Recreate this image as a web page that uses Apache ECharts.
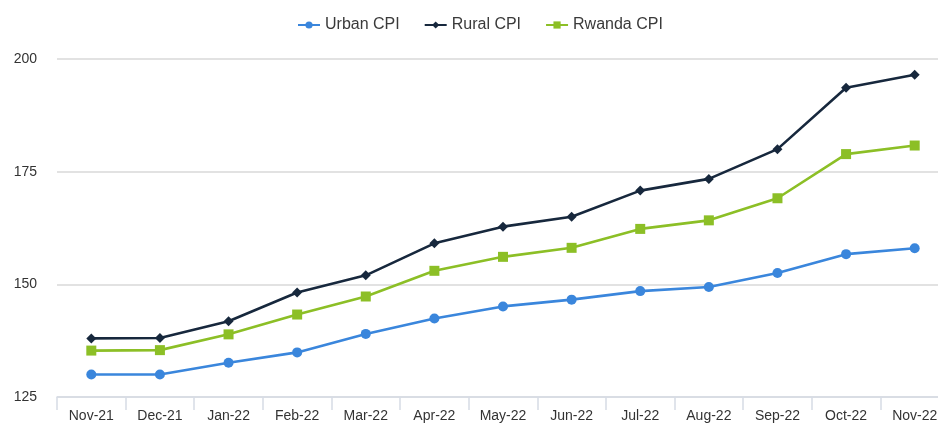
<!DOCTYPE html>
<html>
<head>
<meta charset="utf-8">
<script src="https://cdn.jsdelivr.net/npm/echarts@6/dist/echarts.min.js"></script>
<style>html,body{margin:0;padding:0;background:#fff;overflow:hidden;width:938px;height:425px;}#c{width:950px;height:425px;}</style>
</head>
<body>
<div id="c"></div>
<script>
const categories = ["Nov-21","Dec-21","Jan-22","Feb-22","Mar-22","Apr-22","May-22","Jun-22","Jul-22","Aug-22","Sep-22","Oct-22","Nov-22"];
const urbanCPI = [130.0,130.0,132.6,134.9,139.0,142.4,145.1,146.6,148.5,149.4,152.5,156.7,158.0];
const ruralCPI = [138.0,138.1,141.8,148.2,152.0,159.1,162.8,165.0,170.8,173.4,180.0,193.6,196.5];
const rwandaCPI = [135.3,135.4,138.9,143.3,147.3,153.0,156.1,158.1,162.3,164.2,169.1,178.9,180.8];
const yTicks = {min:125, max:200, interval:25};

const chart = echarts.init(document.getElementById('c'), null, {renderer:'canvas'});
const font = 'Liberation Sans, Arial, sans-serif';
function mk(name, data, color, symbol, size){
  return {name, type:'line', data, symbol, symbolSize:size, showSymbol:true,
    lineStyle:{color, width:2.6}, itemStyle:{color}, animation:false};
}
chart.setOption({
  animation:false,
  legend:{top:12, left:292, itemWidth:22, itemHeight:9, itemGap:24,
    textStyle:{fontFamily:font, fontSize:16, color:'#3a3a3a'},
    data:['Urban CPI','Rural CPI','Rwanda CPI']},
  grid:{left:57, right:1, top:59, bottom:28, containLabel:false},
  xAxis:{type:'category', data:categories, boundaryGap:true,
    axisLine:{lineStyle:{color:'#d6dce5', width:1.5}},
    axisTick:{show:true, interval:0, length:13, lineStyle:{color:'#d6dce5', width:1.5}},
    axisLabel:{interval:0, margin:12, fontFamily:font, fontSize:14, color:'#333'}},
  yAxis:{type:'value', min:yTicks.min, max:yTicks.max, interval:yTicks.interval,
    axisLine:{show:false}, axisTick:{show:false},
    axisLabel:{margin:20, fontFamily:font, fontSize:14, color:'#333'},
    splitLine:{lineStyle:{color:'#d9d9d9', width:1.5}}},
  series:[
    mk('Urban CPI', urbanCPI, '#3a86dc', 'circle', 10),
    mk('Rural CPI', ruralCPI, '#17283d', 'diamond', 10),
    mk('Rwanda CPI', rwandaCPI, '#8cbf26', 'rect', 10)
  ]
});
</script>
</body>
</html>
